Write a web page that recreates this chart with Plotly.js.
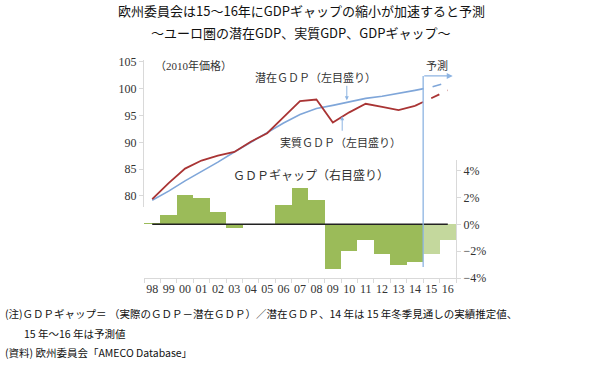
<!DOCTYPE html>
<html>
<head>
<meta charset="utf-8">
<script src="https://cdn.plot.ly/plotly-3.0.1.min.js"></script>
<style>html,body{margin:0;padding:0;background:#fff;}#chart{width:603px;height:376px;}</style>
</head>
<body>
<div id="chart"></div>
<script>
const years = ['98','99','00','01','02','03','04','05','06','07','08','09','10','11','12','13','14','15','16'];
const potentialGDP = [79.2, 80.9, 82.8, 84.5, 86.3, 88.2, 90.0, 91.8, 93.6, 95.2, 96.3, 96.9, 97.6, 98.2, 98.6, 99.1, 99.7, 100.3, 101.2];
const realGDP = [79.4, 82.4, 85.1, 86.6, 87.5, 88.2, 90.1, 91.7, 94.7, 97.7, 98.0, 93.7, 95.6, 97.2, 96.6, 96.0, 96.8, 98.2, 99.7];
const gdpGap = [0.1, 0.72, 2.16, 1.99, 0.92, -0.25, 0.05, 0.0, 1.47, 2.74, 1.81, -3.36, -1.97, -1.14, -2.19, -3.06, -2.81, -2.19, -1.14];
const firstForecast = 17; // index of '15'
const leftTicks = [80, 85, 90, 95, 100, 105];
const rightTicks = [-4, -2, 0, 2, 4];
const rightTickText = ['\u22124%', '\u22122%', '0%', '2%', '4%'];

const serif = 'Liberation Serif, Noto Sans CJK JP, serif';
const gothic = 'Noto Sans CJK JP, sans-serif';
const blue = '#7fa6d9';
const red = '#a93434';

const solidX = years.slice(0, firstForecast);
const dashX = years.slice(firstForecast - 1);

const traces = [
  {type:'bar', x: years, y: gdpGap, xaxis:'x', yaxis:'y2',
   marker:{color: years.map((_, i) => i >= firstForecast ? '#c4d89d' : '#9bbb59'), line:{width:0}},
   hoverinfo:'skip'},
  {type:'scatter', mode:'lines', x: years, y: years.map(() => 0), xaxis:'x', yaxis:'y2',
   line:{color:'#222', width:1.5}, hoverinfo:'skip'},
  {type:'scatter', mode:'lines', x: solidX, y: potentialGDP.slice(0, firstForecast), xaxis:'x', yaxis:'y',
   line:{color: blue, width:1.6}},
  {type:'scatter', mode:'lines', x: dashX, y: potentialGDP.slice(firstForecast - 1), xaxis:'x', yaxis:'y',
   line:{color: blue, width:1.6, dash:'dash'}},
  {type:'scatter', mode:'lines', x: solidX, y: realGDP.slice(0, firstForecast), xaxis:'x', yaxis:'y',
   line:{color: red, width:1.8}},
  {type:'scatter', mode:'lines', x: dashX, y: realGDP.slice(firstForecast - 1), xaxis:'x', yaxis:'y',
   line:{color: red, width:1.8, dash:'dash'}}
];

const axisCommon = {showgrid:false, zeroline:false, showline:true, linecolor:'#d9d9d9', linewidth:1,
  ticks:'outside', ticklen:4, tickcolor:'#d9d9d9', tickfont:{family: serif, size:12, color:'#333'}};

const layout = {
  width:603, height:376,
  margin:{l:144, r:147, t:60, b:98},
  paper_bgcolor:'#fff', plot_bgcolor:'rgba(0,0,0,0)',
  showlegend:false, bargap:0,
  title:{text:'欧州委員会は15〜16年にGDPギャップの縮小が加速すると予測', x:0.5, xanchor:'center',
    y:1 - 11/376, yanchor:'middle', font:{family: gothic, size:13, color:'#111'}},
  xaxis: Object.assign({}, axisCommon, {type:'category', range:[-0.5, 18.5], anchor:'y2',
    tickson:'boundaries', categoryorder:'array', categoryarray: years, tickangle:0,
    tickfont:{family: serif, size:12, color:'#333'}}),
  yaxis: Object.assign({}, axisCommon, {domain:[0.326, 1], range:[77.94, 105.37], anchor:'x',
    side:'left', tickvals: leftTicks}),
  yaxis2: Object.assign({}, axisCommon, {domain:[0, 0.541], range:[-4, 4.79], anchor:'x',
    side:'right', tickvals: rightTicks, ticktext: rightTickText}),
  shapes:[
    {type:'line', xref:'x', yref:'paper', x0:16.5, x1:16.5, y0:0.05, y1:0.927,
     line:{color:'#8db4e2', width:1.3}}
  ],
  annotations:[
    {text:'〜ユーロ圏の潜在GDP、実質GDP、GDPギャップ〜', xref:'paper', yref:'paper', x:0.5, y:(278-33)/218,
     xanchor:'center', yanchor:'middle', showarrow:false, font:{family: gothic, size:13, color:'#111'}},
    {text:'（2010年価格）', xref:'paper', yref:'paper', x:(193-144)/312, y:(278-66)/218,
     xanchor:'center', yanchor:'middle', showarrow:false, font:{family: serif, size:11, color:'#333'}},
    {text:'潜在ＧＤＰ（左目盛り）', xref:'paper', yref:'paper', x:(315-144)/312, y:(278-77)/218,
     xanchor:'center', yanchor:'middle', showarrow:false, font:{family: serif, size:11, color:'#333'}},
    {text:'実質ＧＤＰ（左目盛り）', xref:'paper', yref:'paper', x:(340-144)/312, y:(278-142)/218,
     xanchor:'center', yanchor:'middle', showarrow:false, font:{family: serif, size:11, color:'#333'}},
    {text:'ＧＤＰギャップ（右目盛り）', xref:'paper', yref:'paper', x:(311-144)/312, y:(278-175)/218,
     xanchor:'center', yanchor:'middle', showarrow:false, font:{family: serif, size:12, color:'#333'}},
    {text:'予測', xref:'paper', yref:'paper', x:(437-144)/312, y:(278-65)/218,
     xanchor:'center', yanchor:'middle', showarrow:false, font:{family: serif, size:11, color:'#333'}},
    {text:'', xref:'x', yref:'paper', x:18.3, y:0.927, ax:-30, ay:0, showarrow:true,
     arrowhead:2, arrowsize:1, arrowwidth:1.2, arrowcolor:'#8db4e2'},
    {text:'', xref:'x', yref:'y', x:11.85, y:97.85, ax:0, ay:-16, showarrow:true,
     arrowhead:2, arrowsize:0.8, arrowwidth:1, arrowcolor:'#8db4e2'},
    {text:'', xref:'x', yref:'y', x:11.57, y:94.87, ax:0, ay:16, showarrow:true,
     arrowhead:2, arrowsize:0.8, arrowwidth:1, arrowcolor:'#8db4e2'},
    {text:'(注)ＧＤＰギャップ＝ （実際のＧＤＰ－潜在ＧＤＰ）／潜在ＧＤＰ、14 年は 15 年冬季見通しの実績推定値、',
     xref:'paper', yref:'paper', x:(3-144)/312, y:(278-313)/218, xanchor:'left', yanchor:'middle',
     showarrow:false, font:{family: gothic, size:10.5, color:'#111'}},
    {text:'15 年〜16 年は予測値', xref:'paper', yref:'paper', x:(22-144)/312, y:(278-333)/218,
     xanchor:'left', yanchor:'middle', showarrow:false, font:{family: gothic, size:10.5, color:'#111'}},
    {text:'(資料) 欧州委員会「AMECO Database」', xref:'paper', yref:'paper', x:(3-144)/312, y:(278-352)/218,
     xanchor:'left', yanchor:'middle', showarrow:false, font:{family: gothic, size:10.5, color:'#111'}}
  ]
};

Plotly.newPlot('chart', traces, layout, {staticPlot:true, displayModeBar:false});
</script>
</body>
</html>
